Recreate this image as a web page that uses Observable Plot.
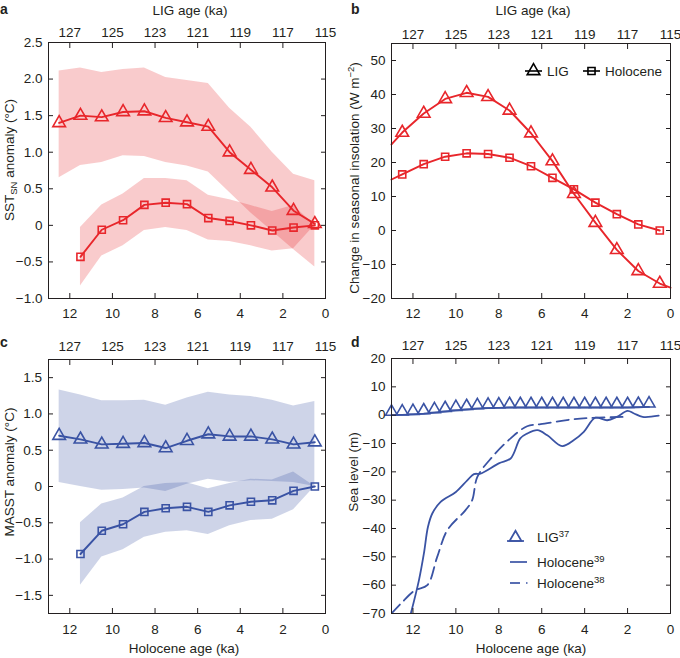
<!DOCTYPE html>
<html><head><meta charset="utf-8">
<script src="https://cdn.jsdelivr.net/npm/d3@7"></script>
<script src="https://cdn.jsdelivr.net/npm/@observablehq/plot@0.6"></script>
<style>
body{margin:0;background:#fff;font-family:"Liberation Sans",Arial,sans-serif;}
#fig{position:relative;width:680px;height:658px;overflow:hidden;}
.panel{position:absolute;}
</style></head><body><div id="fig"></div>
<script>
// ---------- data ----------
const ligAges = [12.5, 11.5, 10.5, 9.5, 8.5, 7.5, 6.5, 5.5, 4.5, 3.5, 2.5, 1.5, 0.5];
const holoAges = [11.5, 10.5, 9.5, 8.5, 7.5, 6.5, 5.5, 4.5, 3.5, 2.5, 1.5, 0.5];
const xTicks = [12, 10, 8, 6, 4, 2, 0];
const ligOffset = 115; // LIG age = Holocene age + 115 ka

// panel a: SST_SN anomaly
const aLig   = [1.40, 1.50, 1.48, 1.55, 1.56, 1.47, 1.41, 1.35, 1.00, 0.76, 0.52, 0.20, 0.02];
const aLigHi = [2.11, 2.15, 2.09, 2.13, 2.15, 2.02, 1.98, 1.94, 1.60, 1.34, 1.00, 0.70, 0.61];
const aLigLo = [0.65, 0.82, 0.86, 0.95, 0.94, 0.86, 0.81, 0.73, 0.45, 0.17, -0.08, -0.33, -0.57];
const aHol   = [-0.43, -0.06, 0.07, 0.28, 0.31, 0.29, 0.10, 0.06, 0.00, -0.07, -0.03, 0.00];
const aHolHi = [-0.03, 0.28, 0.43, 0.64, 0.64, 0.61, 0.41, 0.35, 0.27, 0.19, 0.27, 0.00];
const aHolLo = [-0.83, -0.42, -0.28, -0.07, -0.03, -0.07, -0.20, -0.22, -0.28, -0.35, -0.32, 0.00];
const aTicks = [2.5, 2.0, 1.5, 1.0, 0.5, 0, -0.5, -1.0];

// panel b: change in seasonal insolation
const bLineAges = [13, 12.5, 11.5, 10.5, 9.5, 8.5, 7.5, 6.5, 5.5, 4.5, 3.5, 2.5, 1.5, 0.5, 0];
const bLigLine  = [25.3, 28.8, 34.4, 38.7, 40.5, 39.3, 35.3, 28.6, 20.4, 10.8, 2.3, -5.7, -11.9, -15.6, -16.8];
const bHolAges  = [13, 12.5, 11.5, 10.5, 9.5, 8.5, 7.5, 6.5, 5.5, 4.5, 3.5, 2.5, 1.5, 0.5];
const bHolLine  = [15.0, 16.5, 19.5, 21.7, 22.7, 22.5, 21.4, 18.9, 15.5, 12.1, 8.2, 4.8, 1.8, 0.0];
const bTicks = [50, 40, 30, 20, 10, 0, -10, -20];

// panel c: MASST anomaly
const cLig   = [0.70, 0.65, 0.58, 0.59, 0.60, 0.53, 0.63, 0.72, 0.69, 0.69, 0.65, 0.58, 0.61];
const cLigHi = [1.33, 1.26, 1.18, 1.18, 1.19, 1.12, 1.22, 1.30, 1.26, 1.24, 1.19, 1.11, 1.17];
const cLigLo = [0.055, 0.00, -0.05, -0.04, -0.02, -0.07, 0.03, 0.10, 0.06, 0.08, 0.07, 0.055, 0.00];
const cHol   = [-0.93, -0.61, -0.52, -0.35, -0.30, -0.28, -0.35, -0.26, -0.21, -0.19, -0.06, 0.00];
const cHolHi = [-0.50, -0.24, -0.16, 0.00, 0.04, 0.05, -0.03, 0.04, 0.10, 0.09, 0.20, 0.00];
const cHolLo = [-1.36, -0.97, -0.87, -0.70, -0.63, -0.61, -0.66, -0.54, -0.47, -0.45, -0.32, 0.00];
const cTicks = [1.5, 1.0, 0.5, 0, -0.5, -1.0, -1.5];

// panel d: sea level
const dLigAges = [13, 12.5, 12, 11.5, 11, 10.5, 10, 9.5, 9, 8.5, 8, 7.5, 7, 6.5, 6, 5.5, 5, 4.5, 4, 3.5, 3, 2.5, 2, 1.5, 1];
const dLig     = [0.0, 0.1, 0.3, 0.5, 0.9, 1.3, 1.7, 2.0, 2.3, 2.5, 2.6, 2.7, 2.7, 2.7, 2.7, 2.7, 2.7, 2.7, 2.7, 2.7, 2.7, 2.7, 2.7, 2.8, 2.9];
const dH39Ages = [12.1, 11.72, 11.49, 11.3, 11.1, 10.71, 10.0, 9.47, 9.16, 8.85, 8.0, 7.45, 7.0, 6.68, 6.2, 5.74, 5.05, 4.5, 4.04, 3.5, 2.95, 2.5, 2.0, 1.7, 1.3, 0.55];
const dH39     = [-70, -58.2, -48.8, -39.4, -34.7, -30.6, -27.1, -23.0, -20.8, -20.6, -17.0, -15.3, -8.2, -6.5, -5.3, -7.1, -10.9, -8.8, -5.9, -0.9, -1.8, -0.6, 1.5, 0.6, -0.6, -0.2];
const dH38Ages = [13, 12.5, 11.9, 11.33, 10.87, 10.4, 9.55, 9.24, 9.0, 8.3, 7.45, 6.68, 6.05, 4.5, 3.4, 2.05];
const dH38     = [-70, -66, -61.8, -60, -50, -40.6, -33.5, -30, -21.8, -14.7, -8.2, -3.9, -3.2, -1.4, -0.9, -0.6];
const dTicks = [20, 10, 0, -10, -20, -30, -40, -50, -60, -70];

// ---------- style ----------
const FONT = '"Liberation Sans", Arial, Helvetica, sans-serif';
const FS = 13.5;
const RED = "#e8262b", BLUE = "#3a53a4", INK = "#231f20";
const fmtDec = d => (d === 0 ? "0" : d.toFixed(1)).replace("-", "\u2212");
const fmtInt = d => String(d).replace("-", "\u2212");

function axes(yTicks, yFmt, pads) {
  return [
    Plot.axisX({anchor: "bottom", ticks: xTicks, tickSize: -5, tickPadding: pads.bottom + 5, tickFormat: d => String(d), label: null}),
    Plot.axisX({anchor: "top", ticks: xTicks, tickSize: -5, tickPadding: pads.top + 5, tickFormat: d => String(d + ligOffset), label: null}),
    Plot.axisY({anchor: "left", ticks: yTicks, tickSize: -5, tickPadding: pads.left + 5, tickFormat: yFmt, label: null}),
    Plot.axisY({anchor: "right", ticks: yTicks, tickSize: -5, tickFormat: () => "", label: null}),
    Plot.frame({stroke: INK, strokeWidth: 1})
  ];
}

function makePlot(cfg) {
  const svg = Plot.plot({
    width: 340, height: cfg.height,
    marginLeft: cfg.m[0], marginRight: cfg.m[1], marginTop: cfg.m[2], marginBottom: cfg.m[3],
    x: {domain: [13, 0]},
    y: {domain: cfg.yDomain},
    style: {fontFamily: FONT, fontSize: FS + "px", color: INK, background: "none", overflow: "visible"},
    marks: [...cfg.marks, ...axes(cfg.yTicks, cfg.yFmt, cfg.pads)]
  });
  const div = document.createElement("div");
  div.className = "panel";
  div.style.left = cfg.left + "px";
  div.style.top = cfg.top + "px";
  div.appendChild(svg);
  document.getElementById("fig").appendChild(div);
  const s = d3.select(svg);
  s.selectAll("text").filter(function() { return this.textContent === ""; }).remove();
  s.append("text").attr("x", cfg.letter[0]).attr("y", cfg.letter[1]).attr("font-weight", "bold")
    .attr("text-anchor", "start").attr("font-size", 14).attr("fill", INK).text(cfg.letterText);
  return s;
}

function yLabel(s, x, y, parts) {
  const t = s.append("text").attr("transform", `translate(${x},${y}) rotate(-90)`)
    .attr("text-anchor", "middle").attr("font-size", FS).attr("fill", INK);
  parts.forEach(p => {
    const ts = t.append("tspan").text(p.t);
    if (p.size) ts.attr("font-size", p.size);
    if (p.dy) ts.attr("dy", p.dy);
  });
}
function centerText(s, x, y, txt) {
  s.append("text").attr("x", x).attr("y", y).attr("text-anchor", "middle").attr("font-size", FS).attr("fill", INK).text(txt);
}

const rowsLig = (v, lo, hi) => ligAges.map((a, i) => ({age: a, v: v[i], lo: lo[i], hi: hi[i]}));
const rowsHol = (v, lo, hi) => holoAges.map((a, i) => ({age: a, v: v[i], lo: lo[i], hi: hi[i]}));

// ---------- panel a ----------
{
  const L = rowsLig(aLig, aLigLo, aLigHi), H = rowsHol(aHol, aHolLo, aHolHi);
  const s = makePlot({
    left: 0, top: 0, height: 320, m: [48, 15, 42, 22], yDomain: [-1.0, 2.5], yTicks: aTicks, yFmt: fmtDec,
    pads: {top: 5.5, bottom: 10, left: 6}, letter: [0, 14], letterText: "a",
    marks: [
      Plot.areaY(L, {x: "age", y1: "lo", y2: "hi", fill: RED, fillOpacity: 0.24}),
      Plot.areaY(H, {x: "age", y1: "lo", y2: "hi", fill: RED, fillOpacity: 0.24}),
      Plot.line(L, {x: "age", y: "v", stroke: RED, strokeWidth: 1.9}),
      Plot.line(H, {x: "age", y: "v", stroke: RED, strokeWidth: 1.9}),
      Plot.dot(L, {x: "age", y: "v", symbol: "triangle", r: 4.7, stroke: RED, strokeWidth: 1.6, fill: "none"}),
      Plot.dot(H, {x: "age", y: "v", symbol: "square", r: 4.0, stroke: RED, strokeWidth: 1.6, fill: "none"})
    ]
  });
  yLabel(s, 14, 160, [{t: "SST"}, {t: "SN", size: 9.5, dy: 3}, {t: " anomaly (°C)", dy: -3}]);
  centerText(s, 190, 15, "LIG age (ka)");
}

// ---------- panel b ----------
{
  const LL = bLineAges.map((a, i) => ({age: a, v: bLigLine[i]}));
  const HL = bHolAges.map((a, i) => ({age: a, v: bHolLine[i]}));
  const LD = LL.filter(d => ligAges.includes(d.age));
  const HD = HL.filter(d => ligAges.includes(d.age));
  const s = makePlot({
    left: 340, top: 0, height: 320, m: [51, 10, 43, 22], yDomain: [-20, 55], yTicks: bTicks, yFmt: fmtInt,
    pads: {top: 5, bottom: 10, left: 6}, letter: [11, 14], letterText: "b",
    marks: [
      Plot.line(LL, {x: "age", y: "v", stroke: RED, strokeWidth: 1.9}),
      Plot.line(HL, {x: "age", y: "v", stroke: RED, strokeWidth: 1.9}),
      Plot.dot(LD, {x: "age", y: "v", symbol: "triangle", r: 4.7, stroke: RED, strokeWidth: 1.6, fill: "none"}),
      Plot.dot(HD, {x: "age", y: "v", symbol: "square", r: 4.0, stroke: RED, strokeWidth: 1.6, fill: "none"})
    ]
  });
  yLabel(s, 19, 178, [{t: "Change in seasonal insolation (W m"}, {t: "\u22122", size: 9.5, dy: -5}, {t: ")", dy: 5}]);
  centerText(s, 193, 15, "LIG age (ka)");
  // legend
  const g = s.append("g").attr("stroke", "#000").attr("fill", "none").attr("stroke-width", 1.6);
  g.append("line").attr("x1", 185).attr("x2", 202).attr("y1", 71).attr("y2", 71);
  g.append("path").attr("transform", "translate(193.5,71)").attr("d", d3.symbol(d3.symbolTriangle, Math.PI * 4.7 * 4.7)());
  g.append("line").attr("x1", 243).attr("x2", 260).attr("y1", 71).attr("y2", 71);
  g.append("path").attr("transform", "translate(251.5,71)").attr("d", d3.symbol(d3.symbolSquare, Math.PI * 4.0 * 4.0)());
  s.append("text").attr("x", 207).attr("y", 71).attr("dy", "0.35em").attr("text-anchor", "start").attr("font-size", FS).attr("fill", INK).text("LIG");
  s.append("text").attr("x", 265).attr("y", 71).attr("dy", "0.35em").attr("text-anchor", "start").attr("font-size", FS).attr("fill", INK).text("Holocene");
}

// ---------- panel c ----------
{
  const L = rowsLig(cLig, cLigLo, cLigHi), H = rowsHol(cHol, cHolLo, cHolHi);
  const s = makePlot({
    left: 0, top: 320, height: 338, m: [48, 15, 39, 45], yDomain: [-1.75, 1.75], yTicks: cTicks, yFmt: fmtDec,
    pads: {top: 8.5, bottom: 11, left: 6.5}, letter: [0, 27], letterText: "c",
    marks: [
      Plot.areaY(L, {x: "age", y1: "lo", y2: "hi", fill: BLUE, fillOpacity: 0.25}),
      Plot.areaY(H, {x: "age", y1: "lo", y2: "hi", fill: BLUE, fillOpacity: 0.25}),
      Plot.line(L, {x: "age", y: "v", stroke: BLUE, strokeWidth: 1.9}),
      Plot.line(H, {x: "age", y: "v", stroke: BLUE, strokeWidth: 1.9}),
      Plot.dot(L, {x: "age", y: "v", symbol: "triangle", r: 4.7, stroke: BLUE, strokeWidth: 1.6, fill: "none"}),
      Plot.dot(H, {x: "age", y: "v", symbol: "square", r: 4.0, stroke: BLUE, strokeWidth: 1.6, fill: "none"})
    ]
  });
  yLabel(s, 13.5, 152, [{t: "MASST anomaly (°C)"}]);
  centerText(s, 184, 333, "Holocene age (ka)");
}

// ---------- panel d ----------
{
  const L = dLigAges.map((a, i) => ({age: a, v: dLig[i]}));
  const H39 = dH39Ages.map((a, i) => ({age: a, v: dH39[i]}));
  const H38 = dH38Ages.map((a, i) => ({age: a, v: dH38[i]}));
  const s = makePlot({
    left: 340, top: 320, height: 338, m: [51, 10, 38, 45], yDomain: [-70, 20], yTicks: dTicks, yFmt: fmtInt,
    pads: {top: 8.5, bottom: 11, left: 6}, letter: [11, 27], letterText: "d",
    marks: [
      Plot.line(H38, {x: "age", y: "v", stroke: BLUE, strokeWidth: 1.8, strokeDasharray: "12,6", curve: "catmull-rom", clip: true}),
      Plot.line(H39, {x: "age", y: "v", stroke: BLUE, strokeWidth: 1.8, curve: "catmull-rom", clip: true}),
      Plot.line(L, {x: "age", y: "v", stroke: BLUE, strokeWidth: 1.8}),
      Plot.dot(L, {x: "age", y: "v", symbol: "triangle", r: 4.4, dy: -3.4, stroke: BLUE, strokeWidth: 1.6, fill: "none"})
    ]
  });
  yLabel(s, 18, 152, [{t: "Sea level (m)"}]);
  centerText(s, 191, 333, "Holocene age (ka)");
  // legend
  const g = s.append("g").attr("stroke", BLUE).attr("fill", "none").attr("stroke-width", 1.7);
  g.append("line").attr("x1", 167).attr("x2", 184).attr("y1", 221).attr("y2", 221);
  g.append("path").attr("transform", "translate(175.5,217.6)").attr("d", d3.symbol(d3.symbolTriangle, Math.PI * 4.4 * 4.4)());
  g.append("line").attr("x1", 170).attr("x2", 187).attr("y1", 242).attr("y2", 242);
  g.append("line").attr("x1", 170).attr("x2", 180).attr("y1", 263).attr("y2", 263);
  g.append("line").attr("x1", 186).attr("x2", 187.5).attr("y1", 263).attr("y2", 263);
  const leg = (y, base, sup) => {
    const t = s.append("text").attr("x", 197).attr("y", y).attr("dy", "0.35em").attr("text-anchor", "start").attr("font-size", FS).attr("fill", INK);
    t.append("tspan").text(base);
    t.append("tspan").attr("font-size", 9.5).attr("dy", -5).text(sup);
  };
  leg(217, "LIG", "37");
  leg(242, "Holocene", "39");
  leg(263, "Holocene", "38");
}
</script></body></html>
